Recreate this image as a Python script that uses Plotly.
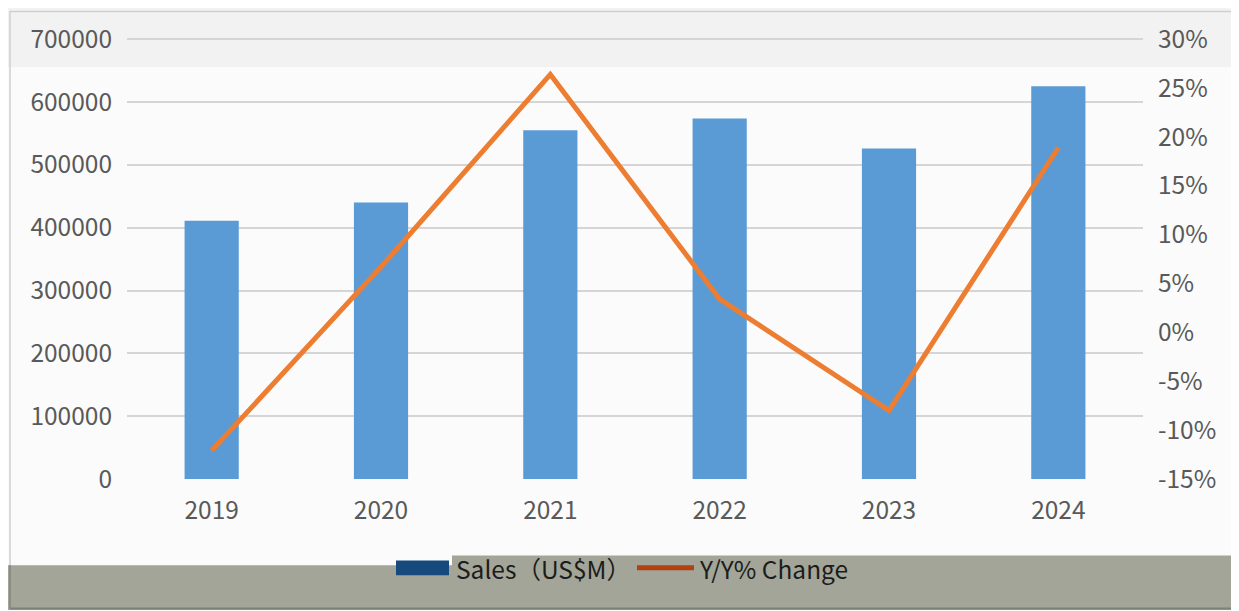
import plotly.graph_objects as go

years = ["2019", "2020", "2021", "2022", "2023", "2024"]
sales = [411000, 440000, 555000, 574000, 526000, 625000]
yoy = [-0.121, 0.067, 0.264, 0.034, -0.080, 0.189]
pct_tickvals = [-0.15, -0.10, -0.05, 0.0, 0.05, 0.10, 0.15, 0.20, 0.25, 0.30]
pct_ticktext = ["-15%", "-10%", "-5%", "0%", "5%", "10%", "15%", "20%", "25%", "30%"]

OFF = 8  # page body margin: figure starts at page (8, 8)
W, H = 1239 - OFF, 611 - OFF
# axis ranges extended slightly so the top gridline is not clipped
YMAX = 702000
Y2MIN, Y2MAX = -0.15, 0.30 + 0.45 * 2000 / 700000
# plot area in page pixels
PL, PR, PB = 127, 1143, 479
PT = 36 - 2000 * 443 / 700000
L, R, T, B = PL - OFF, PR - OFF, PT - OFF, PB - OFF


def px(x):  # page x pixel -> paper
    return (x - PL) / (PR - PL)


def py(y):  # page y pixel -> paper
    return (PB - y) / (PB - PT)


FONT = "Noto Sans CJK SC"
TICK_COLOR = "#595959"
FS = 24.5

fig = go.Figure()
fig.add_trace(go.Bar(x=years, y=sales, name="Sales（US$M）",
                     marker=dict(color="#5b9bd5", line=dict(width=0)),
                     showlegend=False, yaxis="y"))
fig.add_trace(go.Scatter(x=years, y=yoy, name="Y/Y% Change", mode="lines",
                         line=dict(color="#ed7d31", width=5),
                         showlegend=False, yaxis="y2"))

shapes = [
    # top light strip
    dict(type="rect", xref="paper", yref="paper", x0=px(0), x1=px(1239), y0=py(64), y1=py(0),
         fillcolor="#f2f2f2", line=dict(width=0), layer="below"),
    # outer frame
    dict(type="rect", xref="paper", yref="paper", x0=px(10), x1=px(1237), y0=py(609), y1=py(8),
         fillcolor="rgba(0,0,0,0)", line=dict(color="#cfcfcf", width=1.5), layer="below"),
    # bottom band (two steps)
    dict(type="rect", xref="paper", yref="paper", x0=px(8), x1=px(452), y0=py(611), y1=py(566),
         fillcolor="#a2a597", line=dict(width=0), layer="below"),
    dict(type="rect", xref="paper", yref="paper", x0=px(452), x1=px(1239), y0=py(611), y1=py(556),
         fillcolor="#a2a597", line=dict(width=0), layer="below"),
    dict(type="line", xref="paper", yref="paper", x0=px(10), x1=px(1239), y0=py(609.5), y1=py(609.5),
         line=dict(color="#7e8176", width=2), layer="below"),
    dict(type="line", xref="paper", yref="paper", x0=px(10), x1=px(10), y0=py(566), y1=py(610),
         line=dict(color="#8a8d82", width=2), layer="below"),
    # legend symbols
    dict(type="rect", xref="paper", yref="paper", x0=px(396), x1=px(449), y0=py(576), y1=py(561),
         fillcolor="#174a7c", line=dict(width=0), layer="above"),
    dict(type="line", xref="paper", yref="paper", x0=px(637), x1=px(694), y0=py(568.5), y1=py(568.5),
         line=dict(color="#b5400f", width=5), layer="above"),
]

annotations = [
    dict(text="Sales（US$M）", xref="paper", yref="paper", x=px(454), y=py(569),
         xanchor="left", yanchor="middle", showarrow=False,
         font=dict(family=FONT, size=FS, color="#1c1c1c")),
    dict(text="Y/Y% Change", xref="paper", yref="paper", x=px(697), y=py(569),
         xanchor="left", yanchor="middle", showarrow=False,
         font=dict(family=FONT, size=FS, color="#1c1c1c")),
]

fig.update_layout(
    width=W, height=H,
    margin=dict(l=L, r=W - R, t=T, b=H - B),
    paper_bgcolor="#fbfbfb",
    plot_bgcolor="rgba(0,0,0,0)",
    font=dict(family=FONT, size=FS, color=TICK_COLOR),
    bargap=0.68,
    showlegend=False,
    shapes=shapes,
    annotations=annotations,
    xaxis=dict(type="category", showgrid=False, zeroline=False, showline=False,
               ticks="", ticklabelstandoff=14,
               tickfont=dict(family=FONT, size=FS, color=TICK_COLOR)),
    yaxis=dict(range=[0, YMAX], dtick=100000, tickformat="d",
               showgrid=True, gridcolor="#d5d5d5", gridwidth=1.5,
               zeroline=False, showline=False, ticks="", ticklabelstandoff=14,
               tickfont=dict(family=FONT, size=FS, color=TICK_COLOR)),
    yaxis2=dict(range=[Y2MIN, Y2MAX], tickmode="array", tickvals=pct_tickvals,
                ticktext=pct_ticktext, overlaying="y",
                side="right", showgrid=False, zeroline=False, showline=False,
                ticks="", ticklabelstandoff=14,
                tickfont=dict(family=FONT, size=FS, color=TICK_COLOR)),
)

fig.write_html("out.html")
